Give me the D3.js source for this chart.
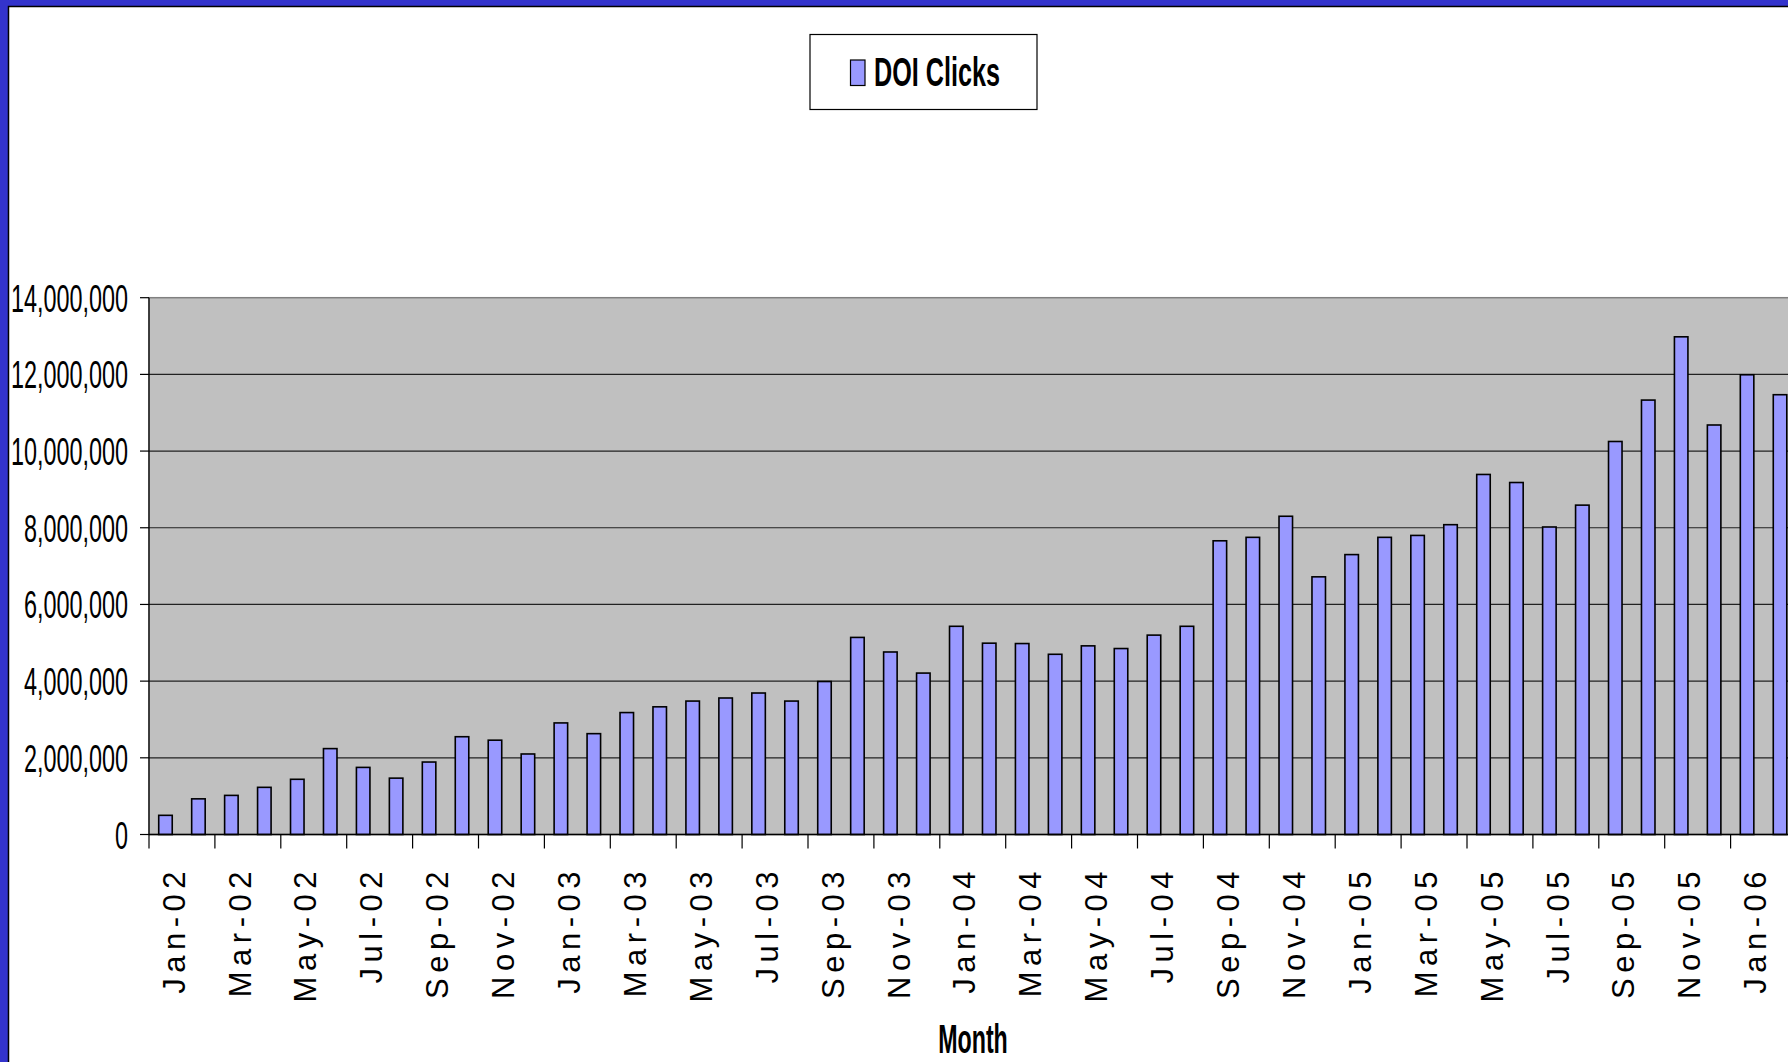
<!DOCTYPE html>
<html>
<head>
<meta charset="utf-8">
<script src="https://cdn.jsdelivr.net/npm/d3@7"></script>
<style>
  html, body { margin: 0; padding: 0; background: #fff; overflow: hidden; }
  svg { display: block; }
  text { font-family: "Liberation Sans", Arial, sans-serif; fill: #000; }
</style>
</head>
<body>
<div id="chart"></div>
<script>
const months = [
  "Jan-02","Feb-02","Mar-02","Apr-02","May-02","Jun-02","Jul-02","Aug-02","Sep-02","Oct-02","Nov-02","Dec-02",
  "Jan-03","Feb-03","Mar-03","Apr-03","May-03","Jun-03","Jul-03","Aug-03","Sep-03","Oct-03","Nov-03","Dec-03",
  "Jan-04","Feb-04","Mar-04","Apr-04","May-04","Jun-04","Jul-04","Aug-04","Sep-04","Oct-04","Nov-04","Dec-04",
  "Jan-05","Feb-05","Mar-05","Apr-05","May-05","Jun-05","Jul-05","Aug-05","Sep-05","Oct-05","Nov-05","Dec-05",
  "Jan-06","Feb-06"
];
const doiClicks = [
  500000, 930000, 1020000, 1230000, 1440000, 2240000, 1750000, 1470000, 1890000, 2550000, 2460000, 2100000,
  2910000, 2630000, 3180000, 3330000, 3480000, 3560000, 3690000, 3480000, 3990000, 5140000, 4760000, 4210000,
  5430000, 4990000, 4980000, 4700000, 4920000, 4850000, 5200000, 5430000, 7660000, 7750000, 8300000, 6720000,
  7300000, 7750000, 7800000, 8080000, 9390000, 9180000, 8020000, 8590000, 10250000, 11330000, 12980000, 10680000,
  11990000, 11470000
];
const yTicks = [0, 2000000, 4000000, 6000000, 8000000, 10000000, 12000000, 14000000];
const labelMonths = months.filter((m, i) => i % 2 === 0);
const seriesName = "DOI Clicks";
const axisTitle = "Month";

const W = 1788, H = 1062;
const plot = { left: 149, top: 297.7, bottom: 834.5, right: 149 + 50 * 32.95 };
const squeeze = 0.6; // the original picture is squashed horizontally

const svg = d3.select("#chart").append("svg")
  .attr("width", W).attr("height", H);

// frame
svg.append("rect").attr("x", 0).attr("y", 0).attr("width", W).attr("height", H).attr("fill", "#3333cc");
svg.append("rect").attr("x", 8.5).attr("y", 6.5).attr("width", W + 20).attr("height", H + 20)
  .attr("fill", "#fff").attr("stroke", "#000").attr("stroke-width", 1.5);

const x = d3.scaleBand().domain(months).range([plot.left, plot.right]).padding(0);
const y = d3.scaleLinear().domain([0, 14000000]).range([plot.bottom, plot.top]);
const barW = x.bandwidth() * 0.41;

// plot area
svg.append("rect")
  .attr("x", plot.left).attr("y", plot.top)
  .attr("width", plot.right - plot.left).attr("height", plot.bottom - plot.top)
  .attr("fill", "#c0c0c0").attr("stroke", "#808080").attr("stroke-width", 1.5);

svg.append("g").selectAll("line")
  .data(yTicks.filter(v => v > 0 && v < 14000000))
  .join("line")
  .attr("x1", plot.left).attr("x2", plot.right)
  .attr("y1", d => y(d)).attr("y2", d => y(d))
  .attr("stroke", "#222").attr("stroke-width", 1.2);

// bars
svg.append("g").selectAll("rect")
  .data(months.map((m, i) => ({ month: m, value: doiClicks[i] })))
  .join("rect")
  .attr("x", d => x(d.month) + (x.bandwidth() - barW) / 2)
  .attr("y", d => y(d.value))
  .attr("width", barW)
  .attr("height", d => y(0) - y(d.value))
  .attr("fill", "#9999ff")
  .attr("stroke", "#000")
  .attr("stroke-width", 1.6);

// y axis
svg.append("line")
  .attr("x1", plot.left).attr("x2", plot.left)
  .attr("y1", plot.top).attr("y2", plot.bottom)
  .attr("stroke", "#000").attr("stroke-width", 1.2);
const yAxis = svg.append("g");
yAxis.selectAll("line").data(yTicks).join("line")
  .attr("x1", plot.left - 9).attr("x2", plot.left)
  .attr("y1", d => y(d)).attr("y2", d => y(d))
  .attr("stroke", "#000").attr("stroke-width", 1.2);
yAxis.selectAll("text").data(yTicks).join("text")
  .attr("transform", d => `translate(128,${y(d)}) scale(${squeeze},1)`)
  .attr("text-anchor", "end")
  .attr("dy", "0.36em")
  .style("font-size", "39px")
  .text(d => d3.format(",")(d));

// x axis
svg.append("line")
  .attr("x1", plot.left).attr("x2", plot.right)
  .attr("y1", plot.bottom).attr("y2", plot.bottom)
  .attr("stroke", "#000").attr("stroke-width", 1.5);
const xAxis = svg.append("g");
xAxis.selectAll("line").data(labelMonths).join("line")
  .attr("x1", d => x(d)).attr("x2", d => x(d))
  .attr("y1", plot.bottom).attr("y2", plot.bottom + 14)
  .attr("stroke", "#000").attr("stroke-width", 1.2);
xAxis.selectAll("text").data(labelMonths).join("text")
  .attr("transform", d => `translate(${x(d) + x.bandwidth() / 2 + 8},866) rotate(-90)`)
  .attr("text-anchor", "end")
  .attr("dy", "0.36em")
  .style("font-size", "31px")
  .style("letter-spacing", "5.5px")
  .text(d => d);

// axis title
svg.append("text")
  .attr("transform", `translate(973,1053) scale(0.58,1)`)
  .attr("text-anchor", "middle")
  .style("font-size", "40px")
  .style("font-weight", "bold")
  .text(axisTitle);

// legend
const legend = svg.append("g");
legend.append("rect")
  .attr("x", 810).attr("y", 34.5).attr("width", 227).attr("height", 75)
  .attr("fill", "#fff").attr("stroke", "#000").attr("stroke-width", 1.2);
legend.append("rect")
  .attr("x", 850.5).attr("y", 60).attr("width", 14.5).attr("height", 25.5)
  .attr("fill", "#9999ff").attr("stroke", "#000").attr("stroke-width", 1.2);
legend.append("text")
  .attr("transform", `translate(874,86) scale(0.63,1)`)
  .style("font-size", "40px")
  .style("font-weight", "bold")
  .text(seriesName);
</script>
</body>
</html>
